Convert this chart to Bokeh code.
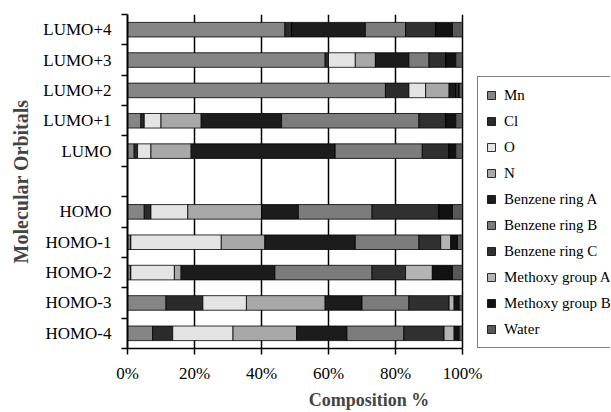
from bokeh.plotting import figure
from bokeh.models import ColumnDataSource, Range1d, FixedTicker, Legend
from bokeh.embed import file_html
from bokeh.resources import INLINE

# ---- data ----
orbitals = ["LUMO+4", "LUMO+3", "LUMO+2", "LUMO+1", "LUMO",
            "HOMO", "HOMO-1", "HOMO-2", "HOMO-3", "HOMO-4"]
components = ["Mn", "Cl", "O", "N", "Benzene ring A", "Benzene ring B",
              "Benzene ring C", "Methoxy group A", "Methoxy group B", "Water"]
Mn    = [47, 59, 77, 4, 2, 5, 1, 1, 11.5, 7.5]
Cl    = [2, 1, 7, 1, 1, 2, 0, 0, 11, 6]
O     = [0, 8, 5, 5, 4, 11, 27, 13, 13, 18]
N     = [0, 6, 7, 12, 12, 22, 13, 2, 23.5, 19]
BzA   = [22, 10, 2, 24, 43, 11, 27, 28, 11, 15]
BzB   = [12, 6, 0, 41, 26, 22, 19, 29, 14, 17]
BzC   = [9, 5, 1, 8, 8, 20, 6.5, 10, 12, 12]
MeA   = [0, 0, 0, 0, 0, 0, 3, 8, 1.5, 3]
MeB   = [5, 3, 0, 3, 2, 4, 2, 6, 1.5, 1.5]
Water = [3, 2, 1, 2, 2, 3, 1.5, 3, 1, 1]
x_ticks = [0, 20, 40, 60, 80, 100]
x_tick_labels = ["0%", "20%", "40%", "60%", "80%", "100%"]

colors = ["#858585", "#2b2b2b", "#e4e4e4", "#a8a8a8", "#1c1c1c",
          "#7c7c7c", "#303030", "#b4b4b4", "#121212", "#585858"]

# rows from top to bottom, with an empty slot between LUMO and HOMO
rows = orbitals[:5] + [""] + orbitals[5:]
nrows = len(rows)
ypos = {name: nrows - 1 - k + 0.5 for k, name in enumerate(rows)}

keys = ["Mn", "Cl", "O", "N", "BzA", "BzB", "BzC", "MeA", "MeB", "Water"]
series = [Mn, Cl, O, N, BzA, BzB, BzC, MeA, MeB, Water]
data = {"y": [ypos[o] for o in orbitals]}
for k, s in zip(keys, series):
    data[k] = s
source = ColumnDataSource(data)

FONT = "Liberation Serif"

# frame spans to the right edge so the legend can sit inside it;
# the 0-100 % scale occupies the left part (axis bounded to 0..100)
W, H = 610, 412
left, top, bottom = 127, 14, 59
frame_w = W - left
pct_w = 335  # pixels for 0..100 %
x_max = 100 * frame_w / pct_w

p = figure(width=W, height=H, output_backend="svg", toolbar_location=None,
           x_range=Range1d(0, x_max), y_range=Range1d(0, nrows),
           min_border_left=left, min_border_right=0,
           min_border_top=top, min_border_bottom=bottom)
p.outline_line_color = None
p.background_fill_color = "white"

renderers = p.hbar_stack(keys, y="y", height=0.48, source=source,
                         color=colors, line_color="black", line_width=0.8)

# axes
p.xaxis.bounds = (0, 100)
p.xaxis.ticker = FixedTicker(ticks=x_ticks)
p.xaxis.major_label_overrides = {t: l for t, l in zip(x_ticks, x_tick_labels)}
p.xaxis.axis_label = "Composition %"
p.xaxis.axis_label_text_font = FONT
p.xaxis.axis_label_text_font_style = "bold"
p.xaxis.axis_label_text_font_size = "18px"
p.xaxis.axis_label_standoff = 4
p.xaxis.major_label_text_font = FONT
p.xaxis.major_label_text_font_size = "17px"
p.xaxis.major_label_text_color = "black"
p.xaxis.major_tick_out = 6
p.xaxis.major_tick_in = 0
p.xaxis.major_label_standoff = 9
p.xaxis.minor_tick_line_color = None
p.xaxis.axis_line_color = "black"
p.xaxis.axis_line_width = 1.5
p.xaxis.major_tick_line_width = 1.5

centers = [ypos[o] for o in orbitals]
p.yaxis.ticker = FixedTicker(ticks=centers, minor_ticks=list(range(nrows + 1)))
p.yaxis.major_label_overrides = {ypos[o]: o for o in orbitals}
p.yaxis.major_tick_out = 0
p.yaxis.major_tick_in = 0
p.yaxis.minor_tick_out = 6
p.yaxis.minor_tick_in = 0
p.yaxis.minor_tick_line_width = 1.5
p.yaxis.minor_tick_line_color = "black"
p.yaxis.major_label_standoff = 10
p.yaxis.major_label_text_font = FONT
p.yaxis.major_label_text_font_size = "17px"
p.yaxis.major_label_text_color = "black"
p.yaxis.axis_label = "Molecular Orbitals"
p.yaxis.axis_label_text_font = FONT
p.yaxis.axis_label_text_font_style = "bold"
p.yaxis.axis_label_text_font_size = "20px"
p.yaxis.axis_label_standoff = 8
p.yaxis.axis_line_color = "black"
p.yaxis.axis_line_width = 2

p.xgrid.ticker = FixedTicker(ticks=x_ticks)
p.xgrid.grid_line_color = "black"
p.xgrid.grid_line_width = 1.5
p.ygrid.visible = False

legend = Legend(items=[(c, [r]) for c, r in zip(components, renderers)],
                location=(pct_w + 15, 0))
legend.label_text_font = FONT
legend.label_text_font_size = "15px"
legend.label_text_color = "black"
legend.glyph_width = 10
legend.glyph_height = 10
legend.label_height = 20
legend.spacing = 6
legend.padding = 8
legend.margin = 0
legend.label_standoff = 8
legend.border_line_color = "black"
legend.border_line_width = 1
legend.background_fill_alpha = 1
p.add_layout(legend)

open("out.html", "w").write(file_html(p, INLINE))
